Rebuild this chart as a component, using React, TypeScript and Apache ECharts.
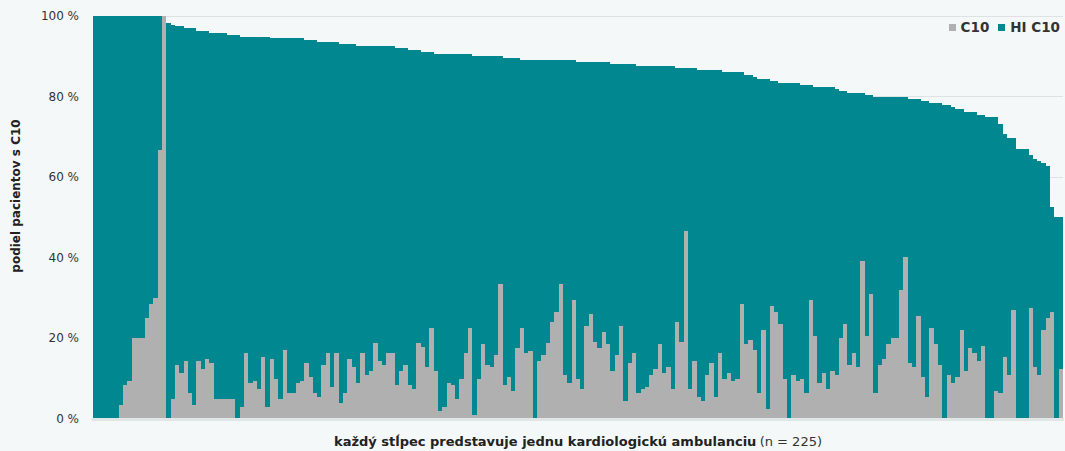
import React, { useEffect, useRef } from "react";
import * as echarts from "echarts";

// share of patients (%) per cardiology clinic, 225 clinics
const c10Share: number[] = [
  0, 0, 0, 0, 0, 0, 3.4, 8.4, 9.4, 20.0,
  20.0, 20.0, 25.0, 28.5, 30.1, 66.8, 100, 0, 4.9, 13.4,
  11.5, 14.4, 6.4, 3.4, 14.4, 12.5, 14.9, 13.9, 4.9, 4.9,
  4.9, 4.9, 4.9, 0, 2.9, 16.4, 8.9, 9.4, 7.5, 15.4,
  3.0, 14.9, 9.9, 5.0, 17.0, 6.5, 6.5, 8.9, 9.4, 13.9,
  10.4, 6.5, 5.5, 13.4, 16.4, 8.0, 16.4, 4.0, 6.5, 14.9,
  12.9, 8.9, 16.4, 10.9, 11.9, 18.9, 14.4, 13.4, 16.4, 16.4,
  8.5, 11.9, 13.4, 8.5, 7.5, 18.9, 17.9, 12.9, 22.5, 11.9,
  1.9, 3.0, 8.9, 8.5, 5.0, 9.9, 16.4, 22.5, 0.9, 9.9,
  18.5, 13.4, 12.9, 15.9, 33.6, 8.5, 10.4, 7.0, 17.5, 22.5,
  16.4, 16.9, 0, 14.4, 15.9, 18.9, 24.0, 26.6, 33.6, 10.9,
  8.9, 29.6, 9.9, 7.5, 23.0, 26.0, 19.0, 17.5, 21.5, 18.5,
  11.9, 15.9, 23.0, 4.5, 13.9, 16.4, 6.5, 7.5, 8.0, 10.9,
  12.4, 18.5, 11.4, 12.9, 7.5, 24.0, 19.0, 46.7, 7.5, 14.4,
  5.5, 4.5, 10.9, 13.9, 5.5, 16.4, 9.9, 11.4, 9.4, 9.9,
  28.6, 18.5, 19.5, 17.0, 6.5, 22.0, 2.4, 28.1, 26.6, 23.5,
  9.9, 0, 10.9, 9.4, 9.9, 6.5, 29.6, 20.6, 8.9, 11.4,
  7.5, 11.9, 10.9, 20.1, 23.5, 13.4, 16.4, 12.9, 39.1, 20.6,
  31.1, 6.5, 13.4, 14.9, 18.5, 20.1, 20.1, 32.1, 40.1, 13.9,
  12.9, 25.5, 10.4, 5.5, 22.5, 18.5, 13.4, 0, 10.9, 8.9,
  10.4, 22.0, 11.9, 17.5, 16.4, 14.4, 18.0, 0, 0, 7.0,
  6.5, 15.4, 10.9, 27.0, 0, 0, 0, 27.5, 12.9, 10.9,
  22.0, 25.0, 26.6, 0, 12.4,
];

const hiC10Share: number[] = [
  100, 100, 100, 100, 100, 100, 100, 100, 100, 100,
  100, 100, 100, 100, 100, 100, 100, 98.2, 97.8, 97.6,
  97.6, 97.1, 97.1, 97.1, 96.4, 96.4, 96.4, 95.9, 95.9, 95.9,
  95.9, 95.4, 95.4, 95.4, 94.9, 94.9, 94.9, 94.9, 94.9, 94.9,
  94.9, 94.5, 94.5, 94.5, 94.5, 94.5, 94.5, 94.5, 94.5, 94.0,
  94.0, 94.0, 93.5, 93.5, 93.5, 93.5, 93.5, 93.0, 93.0, 93.0,
  93.0, 92.5, 92.5, 92.5, 92.5, 92.5, 92.5, 92.5, 92.5, 92.5,
  92.0, 92.0, 92.0, 91.5, 91.5, 91.5, 91.0, 91.0, 91.0, 90.5,
  90.5, 90.5, 90.5, 90.5, 90.5, 90.5, 90.5, 90.5, 90.0, 90.0,
  90.0, 90.0, 90.0, 90.0, 90.0, 89.5, 89.5, 89.5, 89.5, 89.0,
  89.0, 89.0, 89.0, 89.0, 89.0, 89.0, 89.0, 89.0, 89.0, 89.0,
  89.0, 89.0, 88.5, 88.5, 88.5, 88.5, 88.5, 88.5, 88.5, 88.5,
  88.0, 88.0, 88.0, 88.0, 88.0, 88.0, 87.5, 87.5, 87.5, 87.5,
  87.5, 87.5, 87.5, 87.5, 87.5, 87.0, 87.0, 87.0, 87.0, 87.0,
  86.5, 86.5, 86.5, 86.5, 86.5, 86.5, 86.0, 86.0, 86.0, 86.0,
  86.0, 85.4, 85.4, 84.9, 84.3, 84.3, 84.3, 83.8, 83.8, 83.3,
  83.3, 83.3, 83.3, 83.3, 82.8, 82.8, 82.8, 82.3, 82.3, 82.3,
  82.3, 82.3, 81.8, 81.3, 81.3, 80.8, 80.8, 80.8, 80.8, 80.3,
  80.3, 79.8, 79.8, 79.8, 79.8, 79.8, 79.8, 79.8, 79.8, 79.3,
  79.3, 79.3, 78.8, 78.8, 78.3, 78.3, 78.3, 77.8, 77.8, 77.3,
  76.8, 76.8, 76.3, 76.3, 76.3, 75.5, 75.5, 74.9, 74.9, 74.9,
  73.3, 70.8, 69.8, 69.8, 66.9, 66.9, 66.9, 65.4, 64.4, 63.9,
  63.4, 62.8, 52.7, 50.2, 50.2,
];

const categories: string[] = c10Share.map((_, i) => String(i + 1));

const seriesNames = ["C10", "HI C10"];
const yTickValues = [0, 20, 40, 60, 80, 100];
const xAxisTitle = "každý stĺpec predstavuje jednu kardiologickú ambulanciu";
const xAxisNote = "(n = 225)";
const yAxisTitle = "podiel pacientov s C10";

const FONT = "DejaVu Sans";
const TEAL = "#00878f";
const GRAY = "#b0b0b0";

export default function App() {
  const ref = useRef<HTMLDivElement>(null);

  useEffect(() => {
    document.body.style.margin = "0";
    const chart = echarts.init(ref.current!, null, { renderer: "svg" });
    chart.setOption({
      animation: false,
      backgroundColor: "#f4f8f8",
      textStyle: { fontFamily: FONT },
      grid: { left: 93, right: 2, top: 16, bottom: 32 },
      legend: {
        data: seriesNames,
        right: 0,
        top: 15,
        icon: "rect",
        itemWidth: 7,
        itemHeight: 7,
        itemGap: 9,
        selectedMode: false,
        textStyle: { fontWeight: "bold", fontSize: 13.5, color: "#333", fontFamily: FONT },
      },
      xAxis: {
        type: "category",
        data: categories,
        axisLabel: { show: false },
        axisTick: { show: false },
        axisLine: { lineStyle: { color: "#e0e5e5", width: 3 } },
        z: 10,
      },
      yAxis: {
        type: "value",
        min: yTickValues[0],
        max: yTickValues[yTickValues.length - 1],
        interval: 20,
        axisLabel: { formatter: "{value} %", color: "#333", fontSize: 12, margin: 14, fontFamily: FONT },
        splitLine: { lineStyle: { color: "#dde2e2", width: 1 } },
        axisLine: { show: false },
        axisTick: { show: false },
      },
      series: [
        {
          name: "HI C10",
          type: "bar",
          data: hiC10Share,
          barCategoryGap: "0%",
          barGap: "-100%",
          itemStyle: { color: TEAL },
        },
        {
          name: "C10",
          type: "bar",
          data: c10Share,
          barCategoryGap: "0%",
          barGap: "-100%",
          itemStyle: { color: GRAY },
        },
      ],
      graphic: [
        {
          type: "text",
          x: 578,
          y: 441,
          style: {
            text: "{b|" + xAxisTitle + "} {n|" + xAxisNote + "}",
            align: "center",
            verticalAlign: "middle",
            rich: {
              b: { fontFamily: FONT, fontSize: 13, fontWeight: "bold", fill: "#222" },
              n: { fontFamily: FONT, fontSize: 13, fontWeight: "normal", fill: "#333" },
            },
          },
        },
        {
          type: "text",
          x: 16,
          y: 196,
          rotation: Math.PI / 2,
          style: {
            text: yAxisTitle,
            align: "center",
            verticalAlign: "middle",
            fontFamily: FONT,
            fontSize: 12,
            fontWeight: "bold",
            fill: "#222",
          },
        },
      ],
    });
    return () => chart.dispose();
  }, []);

  return (
    <>
      <style>{"#root svg path{shape-rendering:crispEdges}"}</style>
      <div
        ref={ref}
        style={{ position: "absolute", left: 0, top: 0, width: 1065, height: 451 }}
      />
    </>
  );
}
